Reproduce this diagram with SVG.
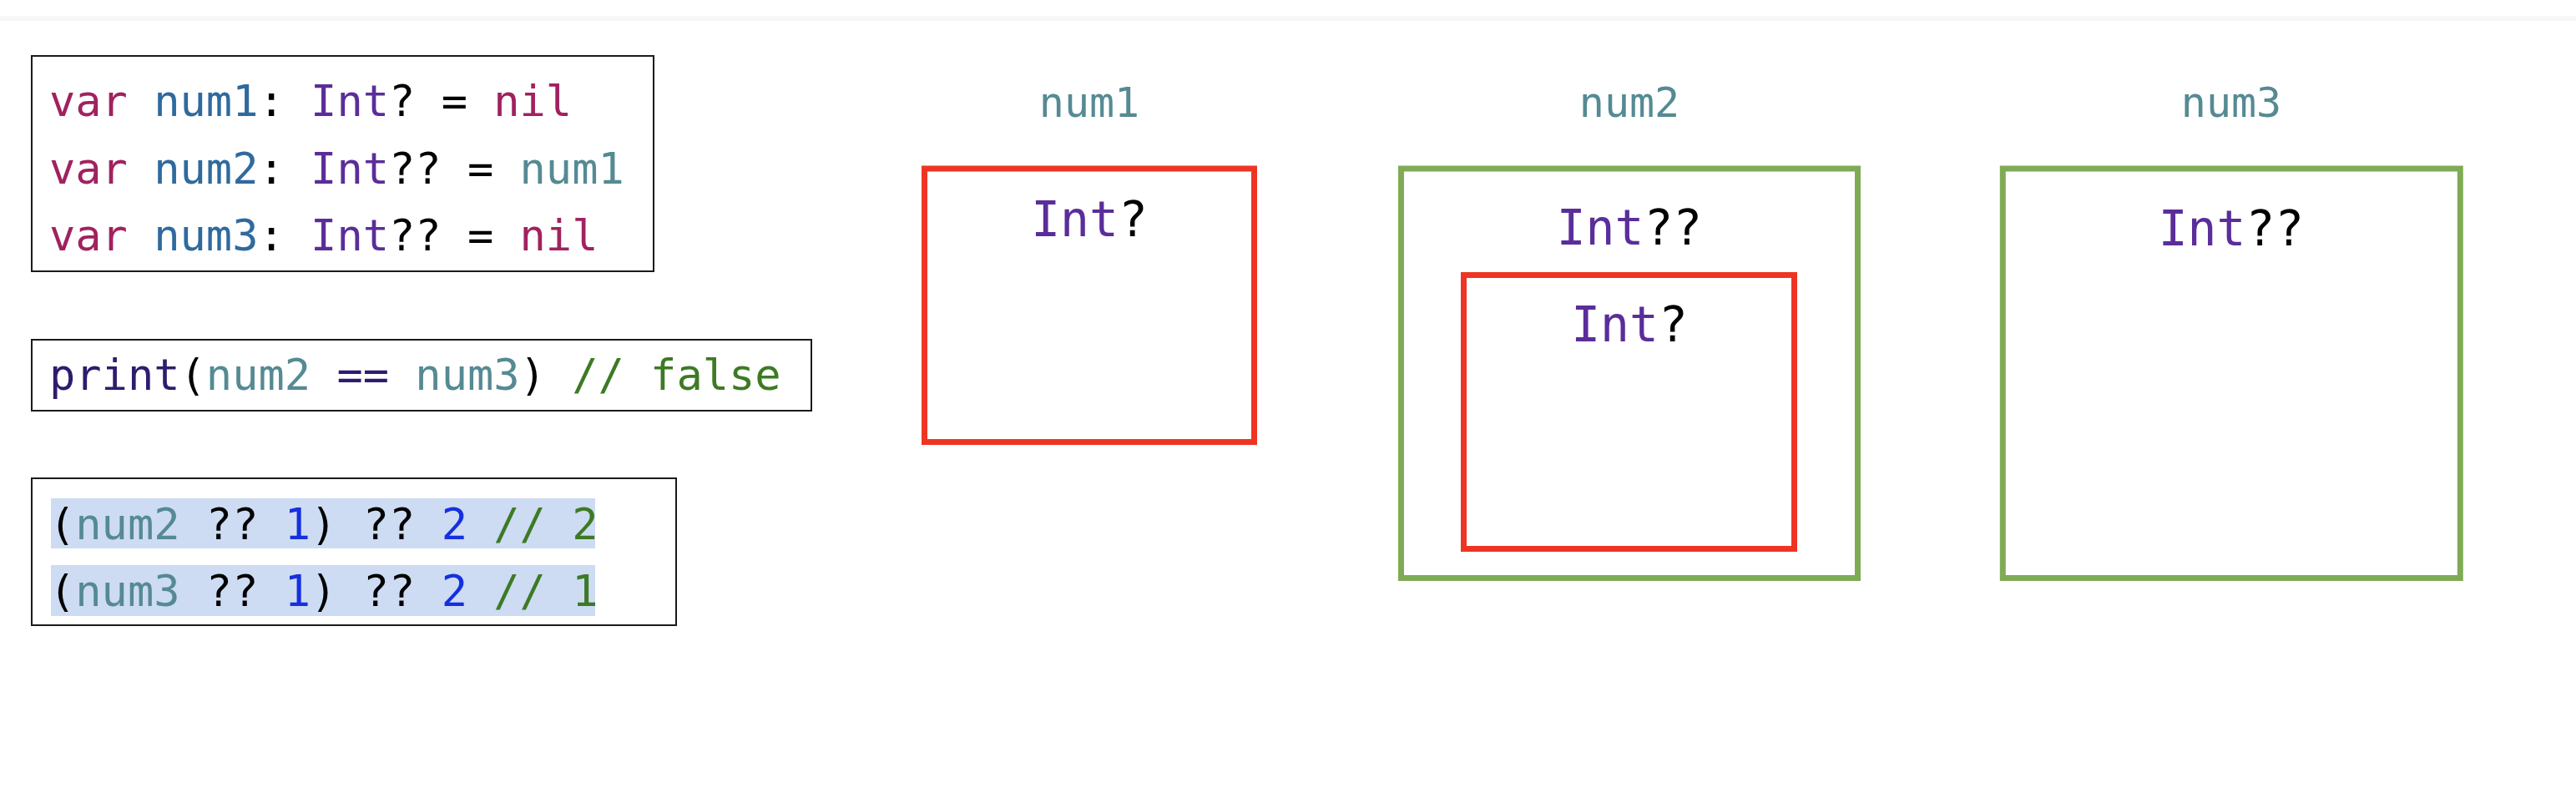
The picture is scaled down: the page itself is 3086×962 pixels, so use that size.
<svg xmlns="http://www.w3.org/2000/svg" width="3086" height="962" viewBox="0 0 3086 962">
<style>
.code{font-family:"DejaVu Sans Mono","Liberation Mono",monospace;font-size:52px;white-space:pre;fill:#000}
.lbl{font-family:"DejaVu Sans Mono","Liberation Mono",monospace;font-size:50px;fill:#558a93;text-anchor:middle}
.ty{font-family:"DejaVu Sans Mono","Liberation Mono",monospace;font-size:58px;fill:#000;text-anchor:middle;white-space:pre}
.box{fill:none;stroke:#1a1a1a;stroke-width:2}
.red{fill:none;stroke:#ee3524;stroke-width:7}
.green{fill:none;stroke:#80ab55;stroke-width:7}
.kw{fill:#a0225f}
.decl{fill:#2f6a9e}
.type{fill:#5b2d9a}
.ref{fill:#558a93}
.fn{fill:#2e1c6e}
.num{fill:#1530e0}
.cmt{fill:#3d7a24}
.hl{fill:#cddbf3}
</style>
<rect x="0" y="0" width="3086" height="962" fill="#ffffff"/>
<rect x="0" y="19.5" width="3086" height="5.5" fill="#f6f6f6"/>

<g id="code-decl">
<rect class="box" x="38" y="67" width="745" height="258"/>
<text class="code" x="59" y="139" xml:space="preserve"><tspan class="kw">var</tspan> <tspan class="decl">num1</tspan>: <tspan class="type">Int</tspan>? = <tspan class="kw">nil</tspan></text>
<text class="code" x="59" y="220" xml:space="preserve"><tspan class="kw">var</tspan> <tspan class="decl">num2</tspan>: <tspan class="type">Int</tspan>?? = <tspan class="ref">num1</tspan></text>
<text class="code" x="59" y="300" xml:space="preserve"><tspan class="kw">var</tspan> <tspan class="decl">num3</tspan>: <tspan class="type">Int</tspan>?? = <tspan class="kw">nil</tspan></text>
</g>

<g id="code-print">
<rect class="box" x="38" y="407" width="934" height="85"/>
<text class="code" x="59" y="467" xml:space="preserve"><tspan class="fn">print</tspan>(<tspan class="ref">num2</tspan> <tspan class="fn">==</tspan> <tspan class="ref">num3</tspan>) <tspan class="cmt">// false</tspan></text>
</g>

<g id="code-coalesce">
<rect class="box" x="38" y="573" width="772" height="176"/>
<rect class="hl" x="61" y="597" width="652" height="60"/>
<rect class="hl" x="61" y="677" width="652" height="61"/>
<text class="code" x="59" y="646" xml:space="preserve">(<tspan class="ref">num2</tspan> ?? <tspan class="num">1</tspan>) ?? <tspan class="num">2</tspan> <tspan class="cmt">// 2</tspan></text>
<text class="code" x="59" y="726" xml:space="preserve">(<tspan class="ref">num3</tspan> ?? <tspan class="num">1</tspan>) ?? <tspan class="num">2</tspan> <tspan class="cmt">// 1</tspan></text>
</g>

<g id="num1">
<text class="lbl" x="1305" y="140">num1</text>
<rect class="red" x="1107.5" y="202" width="395" height="327.5"/>
<text class="ty" x="1305" y="283"><tspan class="type">Int</tspan>?</text>
</g>

<g id="num2">
<text class="lbl" x="1952" y="140">num2</text>
<rect class="green" x="1678.5" y="202" width="547" height="490.5"/>
<text class="ty" x="1952" y="293"><tspan class="type">Int</tspan>??</text>
<g id="num2-inner">
<rect class="red" x="1753.5" y="329.5" width="396" height="328"/>
<text class="ty" x="1952" y="409"><tspan class="type">Int</tspan>?</text>
</g>
</g>

<g id="num3">
<text class="lbl" x="2673" y="140">num3</text>
<rect class="green" x="2399.3" y="202" width="548" height="490.5"/>
<text class="ty" x="2673" y="294"><tspan class="type">Int</tspan>??</text>
</g>

<g id="connectors"></g>
</svg>
